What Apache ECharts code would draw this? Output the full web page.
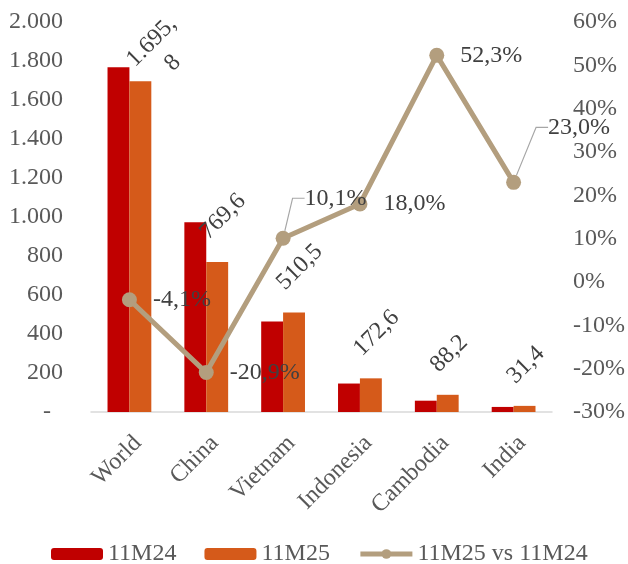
<!DOCTYPE html>
<html>
<head>
<meta charset="utf-8">
<script src="https://cdn.jsdelivr.net/npm/echarts@6/dist/echarts.min.js"></script>
<style>
  html, body { margin: 0; padding: 0; background: #fff; }
  #chart { width: 628px; height: 564px; }
</style>
</head>
<body>
<div id="chart"></div>
<script>
(function(){
    // data
    let categories = ["World", "China", "Vietnam", "Indonesia", "Cambodia", "India"];
    let v11M24 = [1768, 973, 464, 146, 58, 26];
    let v11M25 = [1695.8, 769.6, 510.5, 172.6, 88.2, 31.4];
    let growth = [-4.1, -20.9, 10.1, 18.0, 52.3, 23.0];

    let serif = 'Liberation Serif';
    let fmtComma = function(v){ return v.toFixed(1).replace('.', ','); };
    let fmtThousands = function(v){
        if (v === 0) return '-  ';
        return String(v).replace(/\B(?=(\d{3})+(?!\d))/g, '.');
    };

    // labels of line points that Excel moved off their default place
    let lineLabelMoves = {2: [1, -40], 5: [14, -55]};

    let barData = v11M25.map(function(v){
        // World label wraps (centred) in the reference
        if (v >= 1000) return { value: v, label: { align: 'center', lineHeight: 30, offset: [36, -5] } };
        return v;
    });
    let lineData = growth.map(function(v, i){
        if (lineLabelMoves[i]) return { value: v, labelLine: { show: true } };
        return v;
    });

    let myChart = echarts.init(document.getElementById("chart"));
    let options = {
        animation: false,
        grid: { left: 91, right: 72, top: 22, bottom: 152 },
        legend: {
            top: 537,
            left: 46,
            itemWidth: 52,
            itemHeight: 12,
            itemGap: 28,
            textStyle: { fontFamily: serif, fontSize: 24, color: '#595959' },
            data: ['11M24', '11M25', {
                name: '11M25 vs 11M24',
                lineStyle: { width: 5 }
            }]
        },
        xAxis: {
            type: 'category',
            data: categories,
            axisTick: { show: false },
            axisLine: { lineStyle: { color: '#D9D9D9', width: 1.5 } },
            axisLabel: {
                rotate: 45, interval: 0, margin: 19,
                align: 'right', verticalAlign: 'top',
                fontFamily: serif, fontSize: 24, color: '#595959'
            }
        },
        yAxis: [{
            type: 'value', min: 0, max: 2000, interval: 200,
            splitLine: { show: false },
            axisLabel: {
                margin: 28, fontFamily: serif, fontSize: 24, color: '#595959',
                formatter: fmtThousands
            }
        }, {
            type: 'value', min: -30, max: 60, interval: 10,
            splitLine: { show: false },
            axisLabel: {
                margin: 21, fontFamily: serif, fontSize: 24, color: '#595959',
                formatter: '{value}%'
            }
        }],
        series: [{
            name: '11M24',
            type: 'bar',
            data: v11M24,
            barGap: '0%',
            barCategoryGap: '43%',
            itemStyle: { color: '#C00000' }
        }, {
            name: '11M25',
            type: 'bar',
            data: barData,
            itemStyle: { color: '#D55A1A' },
            label: {
                show: true,
                position: 'top',
                rotate: 45,
                align: 'left',
                verticalAlign: 'middle',
                distance: 0,
                offset: [9, -28],
                fontFamily: serif, fontSize: 24, color: '#404040',
                formatter: function(p){
                    if (p.value >= 1000) {
                        return fmtThousands(Math.floor(p.value)) + ',\n' + Math.round((p.value % 1) * 10);
                    }
                    return fmtComma(p.value);
                }
            }
        }, {
            name: '11M25 vs 11M24',
            type: 'line',
            yAxisIndex: 1,
            data: lineData,
            symbol: 'circle',
            symbolSize: 15,
            z: 5,
            lineStyle: { color: '#B39E7E', width: 5 },
            itemStyle: { color: '#B39E7E' },
            label: {
                show: true,
                position: 'right',
                distance: 16,
                fontFamily: serif, fontSize: 24, color: '#404040',
                formatter: function(p){ return fmtComma(p.value) + '%'; }
            },
            labelLine: {
                show: false,
                length2: 12,
                lineStyle: { color: '#A6A6A6', width: 1.2 }
            },
            labelLayout: function(p){
                let m = lineLabelMoves[p.dataIndex];
                if (!m) return {};
                return { dx: m[0] - 3, dy: m[1] };
            }
        }]
    };
    myChart.setOption(options);
})();
</script>
</body>
</html>
